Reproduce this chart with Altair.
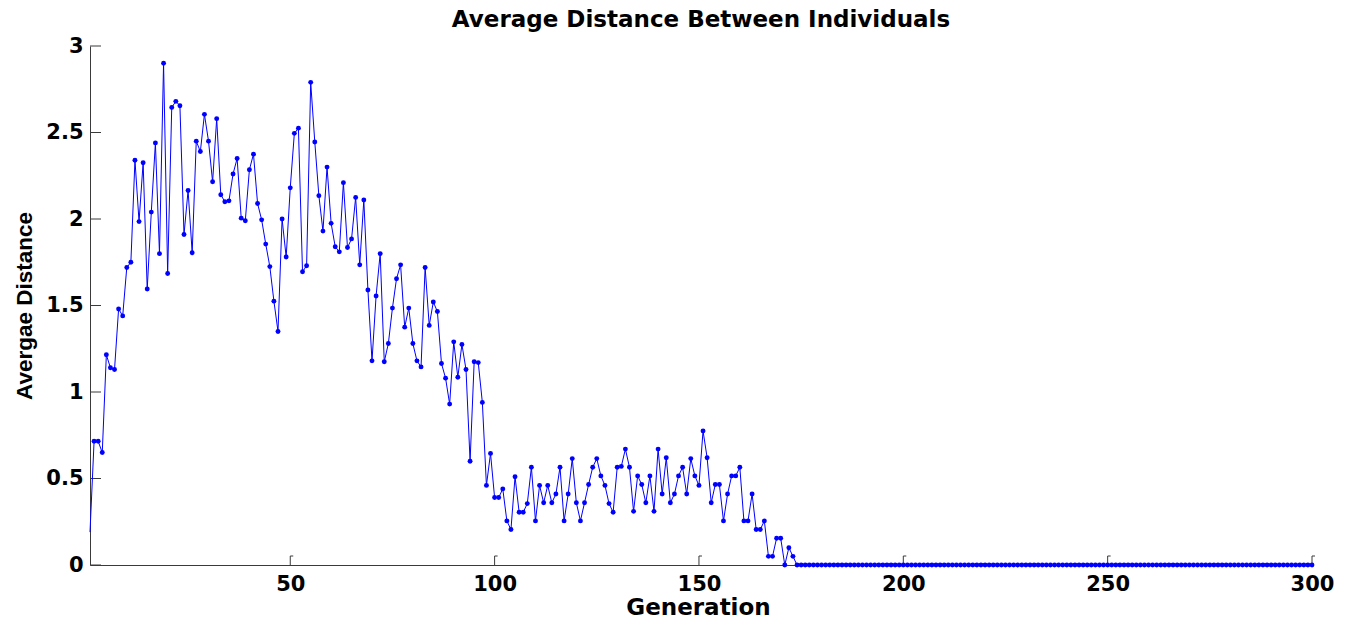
import altair as alt
import pandas as pd

# Average distance per generation (generations 1..174), then the converged tail
avg_distance_active = [
    0.19, 0.715, 0.715, 0.65, 1.215, 1.14, 1.13, 1.48, 1.44, 1.72,
    1.75, 2.34, 1.985, 2.325, 1.595, 2.04, 2.44, 1.80, 2.90, 1.685,
    2.645, 2.68, 2.655, 1.91, 2.165, 1.805, 2.45, 2.39, 2.605, 2.45,
    2.215, 2.58, 2.14, 2.10, 2.105, 2.26, 2.35, 2.005, 1.99, 2.285,
    2.375, 2.09, 1.995, 1.855, 1.725, 1.525, 1.35, 2.0, 1.78, 2.18,
    2.495, 2.525, 1.695, 1.73, 2.79, 2.445, 2.135, 1.93, 2.30, 1.975,
    1.84, 1.81, 2.21, 1.835, 1.885, 2.125, 1.735, 2.11, 1.59, 1.18,
    1.555, 1.80, 1.175, 1.28, 1.485, 1.655, 1.735, 1.375, 1.485, 1.28,
    1.18, 1.145, 1.72, 1.385, 1.52, 1.465, 1.165, 1.08, 0.93, 1.29,
    1.085, 1.275, 1.13, 0.60, 1.175, 1.17, 0.94, 0.46, 0.645, 0.39,
    0.39, 0.44, 0.255, 0.205, 0.51, 0.305, 0.305, 0.355, 0.565, 0.255,
    0.46, 0.36, 0.46, 0.36, 0.41, 0.565, 0.255, 0.41, 0.615, 0.36,
    0.255, 0.36, 0.465, 0.565, 0.615, 0.515, 0.46, 0.355, 0.305, 0.565,
    0.57, 0.67, 0.565, 0.31, 0.515, 0.465, 0.36, 0.515, 0.31, 0.67,
    0.41, 0.62, 0.36, 0.41, 0.515, 0.565, 0.41, 0.615, 0.515, 0.46,
    0.775, 0.62, 0.36, 0.465, 0.465, 0.255, 0.41, 0.515, 0.515, 0.565,
    0.255, 0.255, 0.41, 0.205, 0.205, 0.255, 0.05, 0.05, 0.155, 0.155,
    0.0, 0.1, 0.05, 0.0,
]
avg_distance_tail = [0.0] * 126  # generations 175..300 all sit at zero

x_ticks = [50, 100, 150, 200, 250, 300]
y_ticks = [0, 0.5, 1, 1.5, 2, 2.5, 3]
chart_title = ["Average Distance Between Individuals"]

values = avg_distance_active + avg_distance_tail
df = pd.DataFrame({"generation": list(range(1, len(values) + 1)), "distance": values})
x_tick_df = pd.DataFrame({"generation": x_ticks})
y_tick_df = pd.DataFrame({"distance": y_ticks})
title_df = pd.DataFrame({"label": chart_title})

W, H = 1222, 519
BLUE = "#0000ff"
AXIS = "#3a3a3a"
FONT = "DejaVu Sans"

x_scale = alt.Scale(domain=[1, 300], nice=False, zero=False)
y_scale = alt.Scale(domain=[0, 3], nice=False)

x_axis = alt.Axis(
    values=x_ticks, ticks=False, tickSize=0, grid=False,
    domainColor=AXIS, domainWidth=1,
    labelFont=FONT, labelFontWeight="bold", labelFontSize=21, labelColor="black",
    labelPadding=8, labelFlush=False,
    title="Generation", titleFont=FONT, titleFontWeight="bold", titleFontSize=23,
    titleColor="black", titleX=608, titleY=49, titleAlign="center",
    titleBaseline="alphabetic", titleAngle=0,
)
y_axis = alt.Axis(
    values=y_ticks, ticks=False, tickSize=0, grid=False,
    domainColor=AXIS, domainWidth=1,
    labelFont=FONT, labelFontWeight="bold", labelFontSize=21, labelColor="black",
    labelPadding=7, labelFlush=False, labelExpr="format(datum.value, '~g')",
    title="Avergae Distance", titleFont="Liberation Sans", titleFontWeight="bold",
    titleFontSize=22.5, titleColor="black", titleX=-59, titleY=H / 2,
    titleAlign="center", titleBaseline="alphabetic", titleAngle=270,
)

X = lambda: alt.X("generation:Q", scale=x_scale, axis=x_axis)
Y = lambda: alt.Y("distance:Q", scale=y_scale, axis=y_axis)

line = alt.Chart(df).mark_line(color=BLUE, strokeWidth=1).encode(x=X(), y=Y())
# markers start from the second generation; the first sample is only joined by the line
dots = (
    alt.Chart(df)
    .transform_filter("datum.generation > 1")
    .mark_circle(color=BLUE, size=24, opacity=1)
    .encode(x=X(), y=Y())
)

# inward-pointing ticks drawn as short rules
x_tick_marks = alt.Chart(x_tick_df).mark_rule(color=AXIS, strokeWidth=1).encode(
    x=X(), y=alt.value(H), y2=alt.value(H - 9)
)
x_tick_caps = alt.Chart(x_tick_df).mark_rule(color=AXIS, strokeWidth=1, x2Offset=3).encode(
    x=X(), x2="generation:Q", y=alt.value(H - 9)
)
y_tick_marks = alt.Chart(y_tick_df).mark_rule(color=AXIS, strokeWidth=1).encode(
    y=Y(), x=alt.value(0), x2=alt.value(11)
)

title_text = alt.Chart(title_df).mark_text(
    font=FONT, fontSize=23, fontWeight="bold", color="black",
    align="center", baseline="alphabetic",
).encode(text="label:N", x=alt.value(W / 2), y=alt.value(-19))

chart = (
    alt.layer(x_tick_marks, x_tick_caps, y_tick_marks, line, dots, title_text)
    .properties(
        width=W,
        height=H,
        padding={"left": 90, "top": 46, "right": 39, "bottom": 55},
        autosize=alt.AutoSizeParams(type="none"),
        background="white",
    )
    .configure_view(stroke="transparent")
)

chart.save("out.html", embed_options={"renderer": "svg", "actions": False})
